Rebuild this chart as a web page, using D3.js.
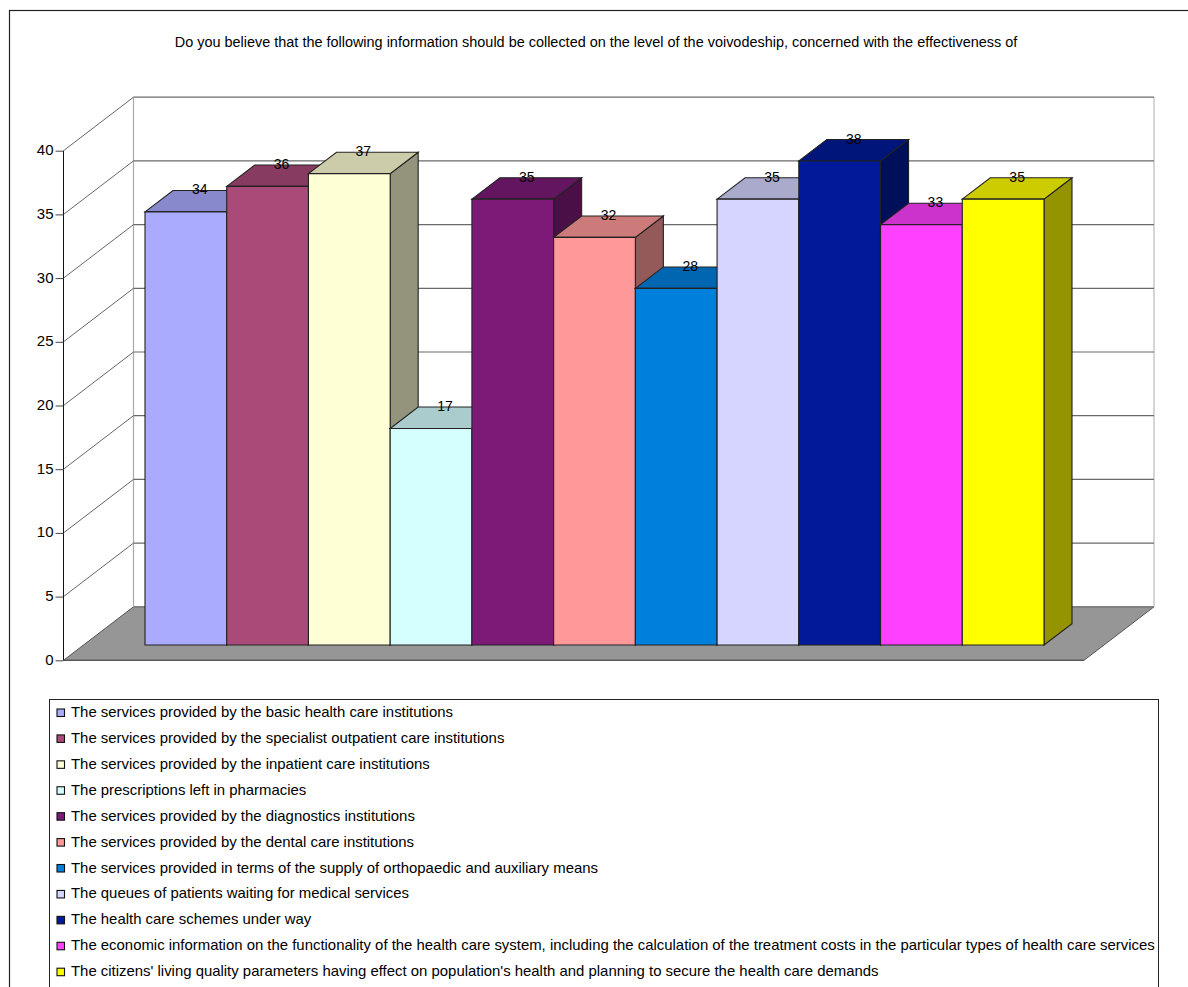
<!DOCTYPE html>
<html>
<head>
<meta charset="utf-8">
<style>
html,body{margin:0;padding:0;background:#fff;overflow:hidden}
svg{display:block}
text{font-family:"Liberation Sans",Arial,sans-serif;fill:#000}
</style>
<script src="https://cdn.jsdelivr.net/npm/d3@7/dist/d3.min.js"></script>
</head>
<body>
<svg id="chart" width="1188" height="987"></svg>
<script>
const chartTitle = "Do you believe that the following information should be collected on the level of the voivodeship, concerned with the effectiveness of";
const categories = [
  "The services provided by the basic health care institutions",
  "The services provided by the specialist outpatient care institutions",
  "The services provided by the inpatient care institutions",
  "The prescriptions left in pharmacies",
  "The services provided by the diagnostics institutions",
  "The services provided by the dental care institutions",
  "The services provided in terms of the supply of orthopaedic and auxiliary means",
  "The queues of patients waiting for medical services",
  "The health care schemes under way",
  "The economic information on the functionality of the health care system, including the calculation of the treatment costs in the particular types of health care services",
  "The citizens' living quality parameters having effect on population's health and planning to secure the health care demands"
];
const values = [34, 36, 37, 17, 35, 32, 28, 35, 38, 33, 35];
const colors = ["#AAAAFF","#AA4A78","#FFFFD5","#D5FFFF","#7D1A78","#FF9999","#0080DD","#D5D5FF","#001A99","#FF40FF","#FFFF00"];
const yTicks = [0, 5, 10, 15, 20, 25, 30, 35, 40];

const svg = d3.select("#chart");

// Oblique projection: depth 0 is the front floor edge, depth 1 the back wall.
const depthX = d3.scaleLinear().domain([0, 1]).range([0, 70]);
const depthY = d3.scaleLinear().domain([0, 1]).range([0, -53.5]);
const y = d3.scaleLinear().domain([0, 40]).range([660.3, 150.7]);
const floorX = d3.scaleLinear().domain([0, 1]).range([63.5, 1084]);
const barFront = 0.285, barBack = 0.685;
const x = d3.scaleBand().domain(d3.range(values.length)).range([145 - depthX(barFront), 1044 - depthX(barFront)]);

const pt = (px, v, d) => [px + depthX(d), y(v) + depthY(d)];
const poly = (g, pts, fill, stroke, sw) => g.append("polygon")
  .attr("points", pts.map(p => p.join(",")).join(" "))
  .attr("fill", fill).attr("stroke", stroke).attr("stroke-width", sw).attr("stroke-linejoin", "miter");
const shade = (c, k) => { const r = d3.rgb(c); return d3.rgb(r.r * k, r.g * k, r.b * k).formatHex(); };

// Frame of the chart area; its right and bottom edges run past the page
svg.append("rect").attr("x", 9.5).attr("y", 10.5).attr("width", 1300).attr("height", 1100)
  .attr("fill", "#fff").attr("stroke", "#222").attr("stroke-width", 1.2);

svg.append("text").attr("x", 596).attr("y", 47).attr("text-anchor", "middle")
  .attr("font-size", 14.45).text(chartTitle);

// Walls and floor
const walls = svg.append("g");
const x0 = floorX(0), x1 = floorX(1);
poly(walls, [pt(x0, 0, 0), pt(x1, 0, 0), pt(x1, 0, 1), pt(x0, 0, 1)], "#969696", "#555", 1);
walls.append("line").attr("x1", pt(x0, 0, 1)[0]).attr("x2", pt(x0, 0, 1)[0])
  .attr("y1", pt(x0, 0, 1)[1]).attr("y2", pt(x0, 40, 1)[1]).attr("stroke", "#aaa").attr("stroke-width", 1.2);
walls.append("line").attr("x1", pt(x1, 0, 1)[0]).attr("x2", pt(x1, 0, 1)[0])
  .attr("y1", pt(x1, 0, 1)[1]).attr("y2", pt(x1, 40, 1)[1]).attr("stroke", "#bbb").attr("stroke-width", 1.2);

yTicks.filter(t => t > 0).forEach(t => {
  const a = pt(x0, t, 0), b = pt(x0, t, 1), c = pt(x1, t, 1);
  walls.append("line").attr("x1", a[0]).attr("y1", a[1]).attr("x2", b[0]).attr("y2", b[1])
    .attr("stroke", "#555").attr("stroke-width", 0.9);
  walls.append("line").attr("x1", b[0]).attr("y1", b[1]).attr("x2", c[0]).attr("y2", c[1])
    .attr("stroke", "#6a6a6a").attr("stroke-width", 1.2);
});

// Vertical value axis, built on the front left edge
const axis = svg.append("g").attr("transform", `translate(${x0},0)`)
  .call(d3.axisLeft(y).tickValues(yTicks).tickSize(8).tickPadding(2).tickFormat(d3.format("d")));
axis.select(".domain").attr("stroke", "#111").attr("d", `M0,${y(0)}V${y(40)}`);
axis.selectAll(".tick line").attr("stroke", "#444");
axis.selectAll(".tick text").attr("font-size", 15).attr("font-family", '"Liberation Sans"').attr("fill", "#000").attr("dy", "0.27em");
svg.append("line").attr("x1", x0).attr("x2", x1).attr("y1", y(0)).attr("y2", y(0)).attr("stroke", "#555").attr("stroke-width", 1.2);

// Bars, painted left to right so each front face covers its neighbour's side
const bars = svg.append("g");
values.forEach((v, i) => {
  const l = x(i), r = x(i) + x.bandwidth();
  const g = bars.append("g");
  poly(g, [pt(r, 0, barFront), pt(r, 0, barBack), pt(r, v, barBack), pt(r, v, barFront)], shade(colors[i], 0.58), "#222", 1.1);
  poly(g, [pt(l, v, barFront), pt(r, v, barFront), pt(r, v, barBack), pt(l, v, barBack)], shade(colors[i], 0.8), "#222", 1.1);
  poly(g, [pt(l, 0, barFront), pt(r, 0, barFront), pt(r, v, barFront), pt(l, v, barFront)], colors[i], "#222", 1.1);
});

// Value labels sit on the rear edge of each bar top, halfway along its depth
const labels = svg.append("g");
const labelDepth = (barFront + barBack) / 2;
values.forEach((v, i) => {
  const c = x(i) + x.bandwidth() / 2;
  labels.append("text").attr("x", pt(c, v, labelDepth)[0]).attr("y", pt(c, v, barBack)[1] + 4)
    .attr("text-anchor", "middle").attr("font-size", 14).text(v);
});

// Legend box
const legendY = d3.scalePoint().domain(d3.range(categories.length)).range([712, 971.2]);
svg.append("rect").attr("x", 49.5).attr("y", 699.5).attr("width", 1109).attr("height", 320)
  .attr("fill", "#fff").attr("stroke", "#222").attr("stroke-width", 1);
categories.forEach((c, i) => {
  const yy = legendY(i);
  svg.append("rect").attr("x", 57).attr("y", yy - 3).attr("width", 7.5).attr("height", 7.5)
    .attr("fill", colors[i]).attr("stroke", "#111").attr("stroke-width", 1.1);
  svg.append("text").attr("x", 71).attr("y", yy + 5).attr("font-size", 14.92).text(c);
});
</script>
</body>
</html>
